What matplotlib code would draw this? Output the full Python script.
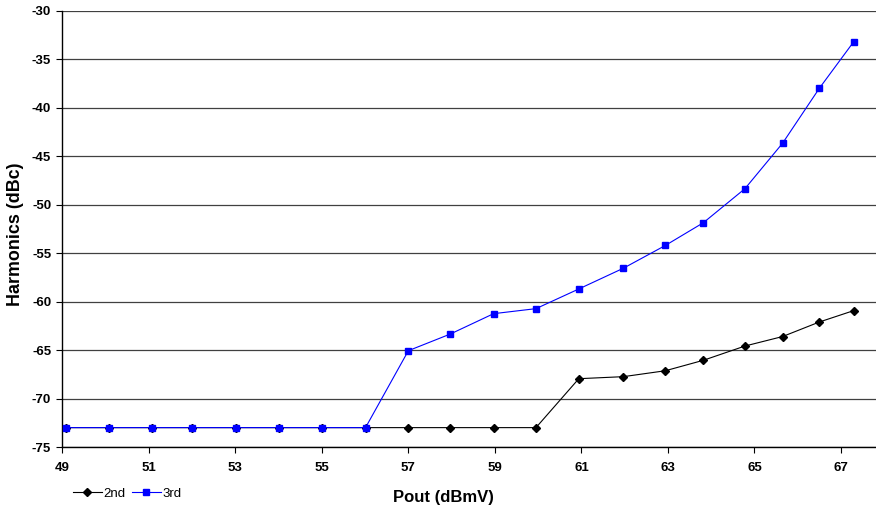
import matplotlib.pyplot as plt

plt.rcParams["font.family"] = ["Liberation Sans", "DejaVu Sans"]

# Pout (dBmV) and harmonic levels (dBc)
pout = [49.08, 50.08, 51.07, 52.0, 53.01, 54.01, 55.0, 56.01, 57.0, 57.97,
        58.97, 59.95, 60.94, 61.97, 62.94, 63.82, 64.78, 65.65, 66.5, 67.29]
h2 = [-73, -73, -73, -73, -73, -73, -73, -73, -73, -73,
      -73, -73, -67.95, -67.74, -67.13, -66.05, -64.58, -63.6, -62.1, -60.93]
h3 = [-73, -73, -73, -73, -73, -73, -73, -73, -65.06, -63.34,
      -61.24, -60.72, -58.69, -56.55, -54.2, -51.85, -48.34, -43.65, -37.98, -33.2]
xticks = [49, 51, 53, 55, 57, 59, 61, 63, 65, 67]
yticks = [-75, -70, -65, -60, -55, -50, -45, -40, -35, -30]

fig = plt.figure(figsize=(8.76, 5.09), dpi=100)
ax = fig.add_axes([0.0711, 0.1218, 0.9289, 0.8566])

ax.plot(pout, h2, color="black", lw=0.8, marker="D", ms=4, label="2nd", zorder=3)
ax.plot(pout, h3, color="#0000FF", lw=0.8, marker="s", ms=5, label="3rd", zorder=4)

ax.set_xlim(49, 67.81)
ax.set_ylim(-75, -30)
ax.set_xticks(xticks)
ax.set_yticks(yticks)
ax.set_xticklabels([str(t) for t in xticks], fontweight="bold", fontsize=9.5)
ax.set_yticklabels([str(t) for t in yticks], fontweight="bold", fontsize=9.5)
ax.tick_params(axis="both", direction="out", length=4, width=0.8)
ax.tick_params(axis="x", pad=7)
ax.tick_params(axis="y", pad=4)

ax.yaxis.grid(True, color="#404040", lw=0.9)
ax.set_axisbelow(True)
for s in ["top", "right"]:
    ax.spines[s].set_visible(False)
ax.spines["left"].set_linewidth(1)
ax.spines["bottom"].set_linewidth(1)

ax.set_xlabel("Pout (dBmV)", fontweight="bold", fontsize=12)
ax.xaxis.set_label_coords(0.468, -0.098)
ax.set_ylabel("Harmonics (dBc)", fontweight="bold", fontsize=12.9)
ax.yaxis.set_label_coords(-0.047, 0.487)

fig.legend(loc="center left", bbox_to_anchor=(0.083, 0.030), ncol=2, frameon=False,
           fontsize=9.5, handlelength=2.2, handletextpad=0.15, columnspacing=0.45,
           borderpad=0, borderaxespad=0)

fig.savefig("out.png", dpi=100)
